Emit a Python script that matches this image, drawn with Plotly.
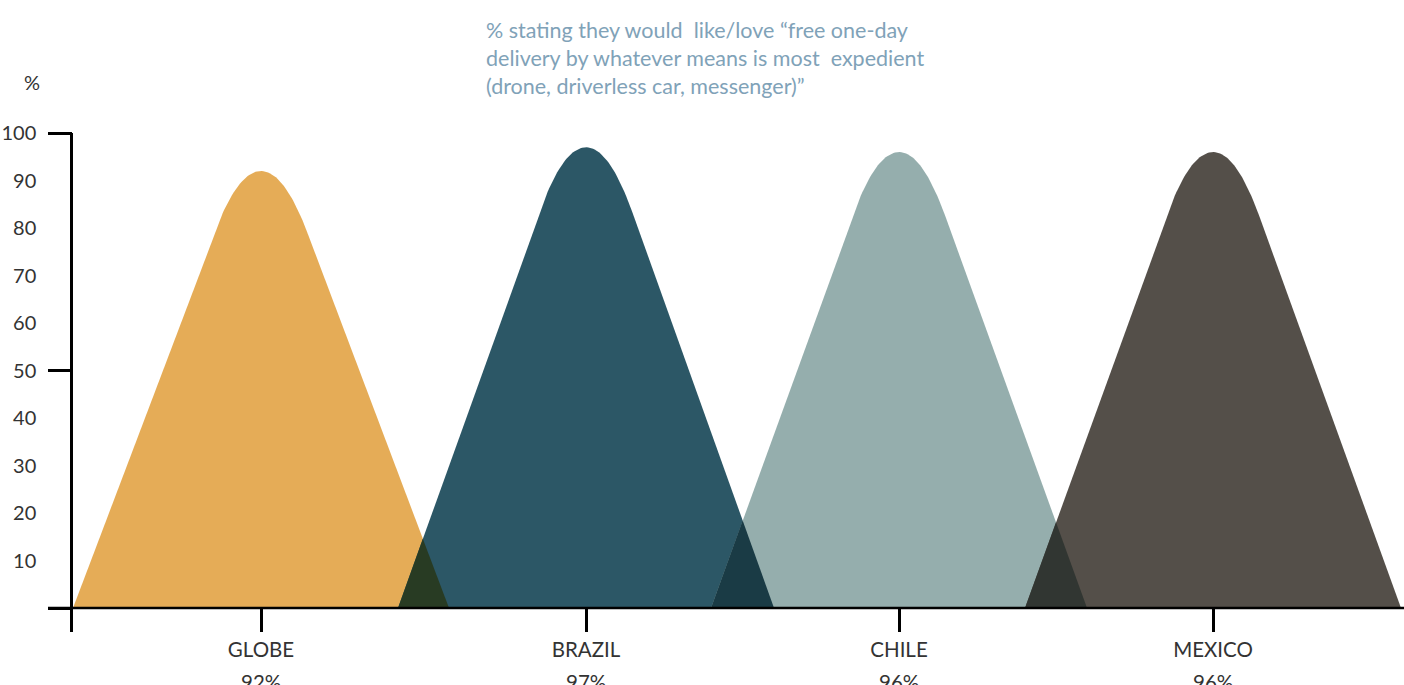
import numpy as np
import plotly.graph_objects as go

# ---- data ----
CATEGORIES = ["GLOBE", "BRAZIL", "CHILE", "MEXICO"]
VALUES = [92, 97, 96, 96]
VALUE_LABELS = ["92%", "97%", "96%", "96%"]
Y_TICKS = [10, 20, 30, 40, 50, 60, 70, 80, 90, 100]
MAJOR_TICKS = [0, 50, 100]
TITLE_LINES = [
    "% stating they would  like/love \u201cfree one-day",
    "delivery by whatever means is most  expedient",
    "(drone, driverless car, messenger)\u201d",
]

# ---- layout / style (not data) ----
COLORS = ["#E5AC57", "#2C5766", "#95AEAD", "#544F49"]
CENTERS = [188, 513, 826, 1140]     # x positions of the peaks (axis units)
HALF_BASE = 188                     # half width of each peak base (axis units)
APEX_RATIO = 1.14                   # notional apex height / value (rounded top)
X_RANGE = [0, 1331]
Y_RANGE = [-5.05, 100]
W, H = 1404, 685
M = dict(l=73, r=0, t=133, b=53)
FONT = "Lato"
TXT = "#333333"


def hex_rgb(h):
    h = h.lstrip("#")
    return tuple(int(h[i:i + 2], 16) for i in (0, 2, 4))


def multiply(c1, c2):
    a, b = hex_rgb(c1), hex_rgb(c2)
    return "rgb(%d,%d,%d)" % tuple(round(x * y / 255) for x, y in zip(a, b))


def peak_shape(c, v):
    a = v * APEX_RATIO
    h0 = 2 * v - a
    hw0 = HALF_BASE * (1 - h0 / a)
    p0 = np.array([c - hw0, h0])
    p1 = np.array([c, a])
    p2 = np.array([c + hw0, h0])
    t = np.linspace(0, 1, 60)[:, None]
    cap = (1 - t) ** 2 * p0 + 2 * (1 - t) * t * p1 + t ** 2 * p2
    xs = [c - HALF_BASE] + list(cap[:, 0]) + [c + HALF_BASE, c - HALF_BASE]
    ys = [0] + list(cap[:, 1]) + [0, 0]
    return xs, ys


fig = go.Figure()

for cat, v, c, col in zip(CATEGORIES, VALUES, CENTERS, COLORS):
    xs, ys = peak_shape(c, v)
    fig.add_trace(go.Scatter(x=xs, y=ys, mode="lines", fill="toself",
                             fillcolor=col, line=dict(width=0, color=col),
                             hoverinfo="skip", showlegend=False, name=cat))

# overlaps between neighbouring peaks (multiply blend)
for i in range(len(VALUES) - 1):
    ci, cj = CENTERS[i], CENTERS[i + 1]
    ai, aj = VALUES[i] * APEX_RATIO, VALUES[i + 1] * APEX_RATIO
    h = (2 * HALF_BASE - (cj - ci)) / (HALF_BASE * (1 / ai + 1 / aj))
    if h <= 0:
        continue
    xi = ci + HALF_BASE * (1 - h / ai)
    xs = [cj - HALF_BASE, xi, ci + HALF_BASE, cj - HALF_BASE]
    ys = [0, h, 0, 0]
    col = multiply(COLORS[i], COLORS[i + 1])
    fig.add_trace(go.Scatter(x=xs, y=ys, mode="lines", fill="toself",
                             fillcolor=col, line=dict(width=0, color=col),
                             hoverinfo="skip", showlegend=False))

# dummy trace for the secondary (major tick) axis
fig.add_trace(go.Scatter(x=[None], y=[None], yaxis="y2", mode="lines",
                         showlegend=False, hoverinfo="skip"))

plot_w = W - M["l"] - M["r"]
plot_h = H - M["t"] - M["b"]
y_span = Y_RANGE[1] - Y_RANGE[0]
zero_paper = (0 - Y_RANGE[0]) / y_span


def py_paper(px):
    return (H - M["b"] - px) / plot_h


def px_paper(px):
    return (px - M["l"]) / plot_w


shapes = [
    dict(type="line", xref="paper", yref="paper",
         x0=px_paper(48), x1=1, y0=zero_paper, y1=zero_paper,
         line=dict(color="black", width=2.5), layer="above"),
]

annotations = [
    dict(text="%", xref="paper", yref="paper", x=px_paper(32), y=py_paper(82),
         xanchor="center", yanchor="middle", showarrow=False,
         font=dict(family=FONT, size=20, color=TXT)),
    dict(text="<br>".join(TITLE_LINES), xref="paper", yref="paper",
         x=px_paper(484), y=py_paper(58), xanchor="left", yanchor="middle",
         align="left", showarrow=False,
         font=dict(family=FONT, size=21.5, color="#80A2B8")),
]
for c, lab in zip(CENTERS, VALUE_LABELS):
    annotations.append(dict(text=lab, xref="x", yref="paper", x=c,
                            y=py_paper(682), xanchor="center", yanchor="middle",
                            showarrow=False,
                            font=dict(family=FONT, size=20.5, color=TXT)))

fig.update_layout(
    width=W, height=H, margin=M,
    paper_bgcolor="white", plot_bgcolor="white",
    showlegend=False,
    xaxis=dict(range=X_RANGE, showgrid=False, zeroline=False, showline=False,
               tickvals=CENTERS, ticktext=CATEGORIES, ticks="inside",
               ticklen=24, tickwidth=2.5, tickcolor="black",
               ticklabelstandoff=3,
               tickfont=dict(family=FONT, size=20.5, color=TXT), fixedrange=True),
    yaxis=dict(range=Y_RANGE, showgrid=False, zeroline=False, showline=True,
               linecolor="black", linewidth=2.5, tickvals=Y_TICKS, ticks="",
               ticklabelstandoff=30,
               tickfont=dict(family=FONT, size=20, color=TXT), fixedrange=True),
    yaxis2=dict(range=Y_RANGE, overlaying="y", side="left", showgrid=False,
                zeroline=False, showline=False, tickvals=MAJOR_TICKS,
                ticks="outside", ticklen=24, tickwidth=2.5, tickcolor="black",
                showticklabels=False, fixedrange=True),
    shapes=shapes,
    annotations=annotations,
)

fig.write_html("out.html", config={"displayModeBar": False},
               post_script="document.body.style.margin='0';"
                           "document.body.style.padding='0';")
